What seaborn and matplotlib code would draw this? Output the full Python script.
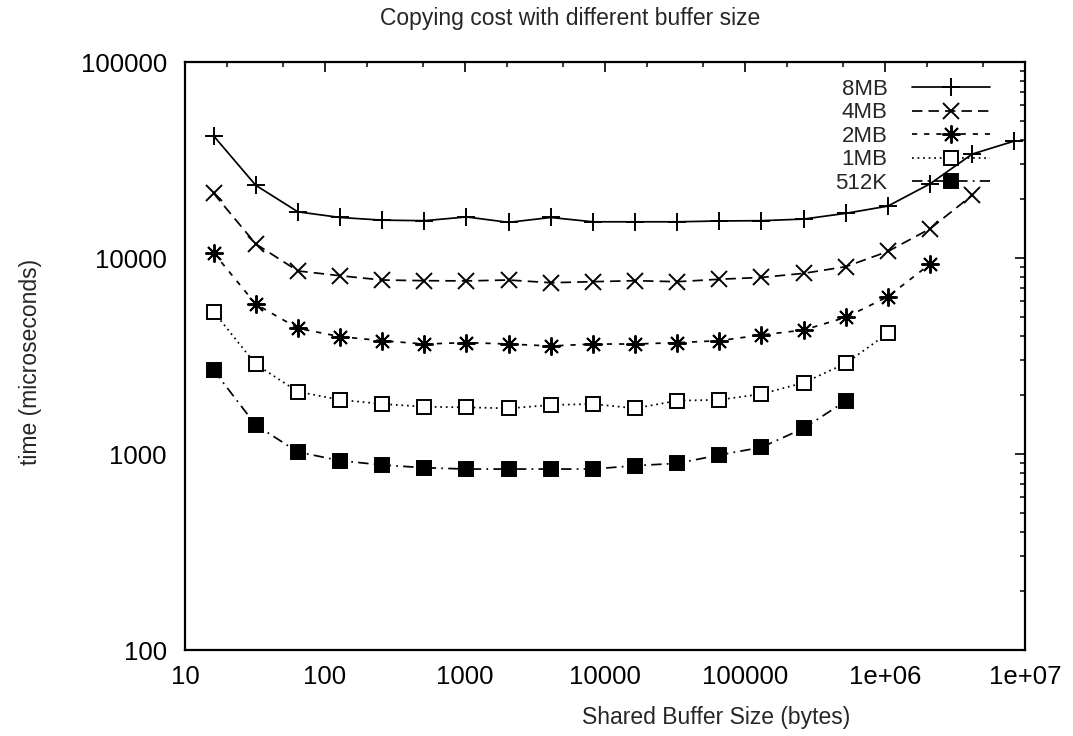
import numpy as np
import pandas as pd
import matplotlib
matplotlib.use('Agg')
import matplotlib.pyplot as plt
import seaborn as sns
from matplotlib.ticker import FixedLocator, FixedFormatter, LogLocator, NullFormatter

# ---- data ----
buffer_sizes = [16, 32, 64, 128, 256, 512, 1024, 2048, 4096, 8192, 16384, 32768,
                65536, 131072, 262144, 524288, 1048576, 2097152, 4194304, 8388608]

t_8mb = [42000, 23500, 17200, 16100, 15600, 15500, 16200, 15200, 16100, 15300,
         15300, 15300, 15450, 15500, 15800, 16900, 18400, 23900, 33900, 39500]
t_4mb = [21400, 11800, 8590, 8120, 7720, 7660, 7640, 7720, 7480, 7570,
         7660, 7570, 7790, 7960, 8350, 9030, 10800, 14100, 20900]
t_2mb = [10640, 5820, 4380, 3970, 3785, 3640, 3700, 3640, 3556, 3640,
         3640, 3700, 3785, 4050, 4290, 4980, 6350, 9310]
t_1mb = [5320, 2870, 2080, 1890, 1800, 1742, 1730, 1710, 1778, 1800,
         1710, 1870, 1890, 2023, 2310, 2900, 4130]
t_512k = [2680, 1406, 1024, 925, 879, 851, 838, 838, 838, 838,
          872, 896, 988, 1082, 1352, 1864]

series_names = ['8MB', '4MB', '2MB', '1MB', '512K']
series_values = [t_8mb, t_4mb, t_2mb, t_1mb, t_512k]

x_ticks = [10, 100, 1000, 10000, 100000, 1000000, 10000000]
x_tick_labels = ['10', '100', '1000', '10000', '100000', '1e+06', '1e+07']
y_ticks = [100, 1000, 10000, 100000]
y_tick_labels = ['100', '1000', '10000', '100000']

rows = []
for name, vals in zip(series_names, series_values):
    for x, v in zip(buffer_sizes, vals):
        rows.append({'series': name, 'size': x, 'time': v})
df = pd.DataFrame(rows)

# ---- style ----
sns.set_style('white')
plt.rcParams['font.family'] = ['Liberation Sans', 'DejaVu Sans']

fig = plt.figure(figsize=(10.73, 7.36), dpi=100)
ax = fig.add_axes([185 / 1073, 1 - 650 / 736, 840 / 1073, 588 / 736])

styles = {
    '8MB': dict(marker='+', linestyle='-', markersize=13, markerfacecolor='black'),
    '4MB': dict(marker='x', linestyle=(0, (6, 3.5)), markersize=11),
    '2MB': dict(marker=(8, 2, 0), linestyle=(0, (3, 4)), markersize=13),
    '1MB': dict(marker='s', linestyle=(0, (1, 2.2)), markersize=10, markerfacecolor='white'),
    '512K': dict(marker='s', linestyle=(0, (6, 3, 1, 3)), markersize=10, markerfacecolor='black'),
}

for name in series_names:
    sub = df[df['series'] == name]
    sns.lineplot(data=sub, x='size', y='time', ax=ax, color='black', linewidth=1.25,
                 markeredgewidth=1.4, markeredgecolor='black', label=name,
                 errorbar=None, **styles[name])

ax.set_xscale('log')
ax.set_yscale('log')
ax.set_xlim(10, 1e7)
ax.set_ylim(100, 1e5)

ax.xaxis.set_major_locator(FixedLocator(x_ticks))
ax.xaxis.set_major_formatter(FixedFormatter(x_tick_labels))
ax.yaxis.set_major_locator(FixedLocator(y_ticks))
ax.yaxis.set_major_formatter(FixedFormatter(y_tick_labels))
ax.xaxis.set_minor_locator(LogLocator(base=10, subs=(2.0, 5.0)))
ax.yaxis.set_minor_locator(LogLocator(base=10, subs=np.arange(2, 10)))
ax.xaxis.set_minor_formatter(NullFormatter())
ax.yaxis.set_minor_formatter(NullFormatter())

ax.tick_params(which='both', direction='in', top=True, right=True, colors='black')
ax.tick_params(which='major', length=7, width=1.2, labelsize=18.5)
ax.tick_params(which='minor', length=3.5, width=1.1)
ax.tick_params(axis='y', which='major', pad=13)
ax.tick_params(axis='x', which='major', pad=11)
for sp in ax.spines.values():
    sp.set_linewidth(1.6)
    sp.set_color('black')

ax.set_xlabel('Shared Buffer Size (bytes)', fontsize=16.5)
ax.xaxis.set_label_coords(0.632, -0.114)
ax.xaxis.label.set_verticalalignment('center')
ax.set_ylabel('time (microseconds)', fontsize=16.5)
ax.yaxis.set_label_coords(-0.1845, 0.49)
ax.yaxis.label.set_verticalalignment('center')

fig.text(570 / 1073, 1 - 18 / 736, 'Copying cost with different buffer size',
         ha='center', va='center', fontsize=16.5)

ax.legend(loc='upper right', bbox_to_anchor=(0.958, 0.971), frameon=False,
          markerfirst=False, handlelength=3.5, handletextpad=1.1,
          labelspacing=0.11, borderpad=0, borderaxespad=0, fontsize=16)

fig.savefig('out.png', dpi=100)
